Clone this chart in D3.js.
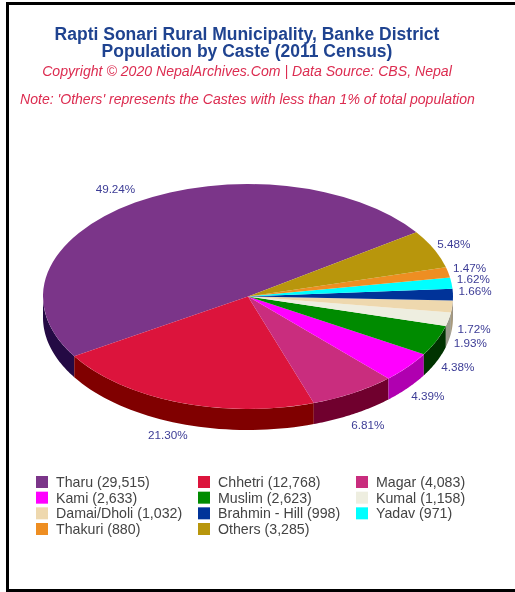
<!DOCTYPE html>
<html>
<head>
<meta charset="utf-8">
<script src="https://cdn.jsdelivr.net/npm/d3@7"></script>
<style>
	html, body { margin: 0; padding: 0; background: #fff; }
	svg { display: block; filter: blur(0.4px); }
	text { font-family: "Liberation Sans", Arial, sans-serif; }
</style>
</head>
<body>
<svg id="chart" width="515" height="592"></svg>
<script>
var castes = ['Tharu', 'Chhetri', 'Magar', 'Kami', 'Muslim', 'Kumal', 'Damai/Dholi', 'Brahmin - Hill', 'Yadav', 'Thakuri', 'Others'];
var population = [29515, 12768, 4083, 2633, 2623, 1158, 1032, 998, 971, 880, 3285];
var topColors = ['#7b3589', '#dc143c', '#c92d7e', '#ff00ff', '#008b00', '#eeeee0', '#eed8ae', '#003399', '#00ffff', '#ee8e22', '#b8960c'];
var sideColors = ['#240a44', '#800000', '#70002e', '#b000b0', '#003300', '#9c9a8c', '#a89a7c', '#001a66', '#009999', '#a05a10', '#7a6400'];
var titleLines = ['Rapti Sonari Rural Municipality, Banke District', 'Population by Caste (2011 Census)'];
var creditLine = 'Copyright © 2020 NepalArchives.Com | Data Source: CBS, Nepal';
var noteLine = "Note: 'Others' represents the Castes with less than 1% of total population";

var svg = d3.select('#chart');
var W = 515, H = 592;
var cx = 248, cy = 296.5, rx = 205, ry = 112.5, depth = 21;
var startDeg = 55.2;
var legendCols = [36, 198, 356];
// hand tweaks for percent labels, the auto placement is close but not exact
var labelNudge = {
	'Tharu': [-7.5, 0.5], 'Chhetri': [-4, -2], 'Others': [0, 3], 'Thakuri': [0, 1],
	'Yadav': [0, 0], 'Brahmin - Hill': [0, -1.5], 'Kami': [3, -1], 'Magar': [3, -1],
	'Muslim': [1, 0]
};

var total = d3.sum(population);
var pct = d3.format('.2%');
var fmt = d3.format(',');

// frame
svg.append('rect').attr('x', 7.5).attr('y', 3.5).attr('width', W + 10).attr('height', 587)
	.attr('fill', '#fff').attr('stroke', '#000').attr('stroke-width', 3);

// headings
svg.selectAll('.title').data(titleLines).enter().append('text')
	.attr('class', 'title')
	.attr('x', 247).attr('y', function(d, i) { return 39.5 + i * 17; })
	.attr('text-anchor', 'middle')
	.attr('font-size', 17.5).attr('font-weight', 'bold').attr('fill', '#1f4390')
	.text(function(d) { return d; });

svg.append('text').attr('x', 247).attr('y', 76).attr('text-anchor', 'middle')
	.attr('font-size', 14.1).attr('font-style', 'italic').attr('fill', '#dc2c50')
	.text(creditLine);

svg.append('text').attr('x', 20).attr('y', 104)
	.attr('font-size', 14.07).attr('font-style', 'italic').attr('fill', '#dc2c50')
	.text(noteLine);

// pie, running counter-clockwise from the Tharu/Others edge
var slices = d3.pie().sort(null)
	.startAngle(startDeg * Math.PI / 180)
	.endAngle((startDeg - 360) * Math.PI / 180)(population);

function ex(a) { return cx + rx * Math.sin(a); }
function ey(a) { return cy - ry * Math.cos(a); }

// the part of a slice's rim on the front half of the ellipse, in clockwise-angle range
function frontRange(s) {
	var lo = Math.min(s.startAngle, s.endAngle), hi = Math.max(s.startAngle, s.endAngle);
	var out = [];
	[-1, 0, 1].forEach(function(k) {
		var a = Math.max(lo, Math.PI / 2 + k * 2 * Math.PI);
		var b = Math.min(hi, 3 * Math.PI / 2 + k * 2 * Math.PI);
		if (b > a) out.push([a, b]);
	});
	return out;
}

function rimPath(r) {
	var n = 40;
	var top = d3.range(n + 1).map(function(i) {
		var a = r[0] + (r[1] - r[0]) * i / n;
		return [ex(a), ey(a)];
	});
	var bottom = top.slice().reverse().map(function(p) { return [p[0], p[1] + depth]; });
	return d3.line()(top.concat(bottom)) + 'Z';
}

var sides = svg.append('g');
slices.forEach(function(s, i) {
	frontRange(s).forEach(function(r) {
		sides.append('path').attr('d', rimPath(r)).attr('fill', sideColors[i]);
	});
});

var arc = d3.arc().innerRadius(0).outerRadius(rx);
svg.append('g')
	.attr('transform', 'translate(' + cx + ',' + cy + ') scale(1,' + (ry / rx) + ')')
	.selectAll('path').data(slices).enter().append('path')
	.attr('d', arc)
	.attr('fill', function(d, i) { return topColors[i]; });

// percent labels sit just off the rim
var labels = slices.map(function(s, i) {
	var a = (s.startAngle + s.endAngle) / 2;
	var front = Math.cos(a) < 0;
	var nudge = labelNudge[castes[i]] || [0, 0];
	return {
		text: pct(s.value / total),
		x: cx + (rx + 22) * Math.sin(a) + nudge[0],
		y: cy - (ry + 14) * Math.cos(a) + (front ? depth * 1.1 : 0) + 2 + nudge[1]
	};
});

svg.append('g').selectAll('text').data(labels).enter().append('text')
	.attr('x', function(d) { return d.x; })
	.attr('y', function(d) { return d.y; })
	.attr('text-anchor', 'middle')
	.attr('font-size', 11.7).attr('fill', '#3c3c96')
	.text(function(d) { return d.text; });

// legend
var legendY = d3.scaleLinear().domain([0, 3]).range([482, 529]);
var legend = svg.append('g').selectAll('g').data(castes).enter().append('g')
	.attr('transform', function(d, i) {
		return 'translate(' + legendCols[i % 3] + ',' + legendY(Math.floor(i / 3)) + ')';
	});
legend.append('rect').attr('x', 0).attr('y', -6).attr('width', 12).attr('height', 12)
	.attr('fill', function(d, i) { return topColors[i]; });
legend.append('text').attr('x', 20).attr('y', 5)
	.attr('font-size', 14.2).attr('fill', '#444')
	.text(function(d, i) { return d + ' (' + fmt(population[i]) + ')'; });
</script>
</body>
</html>
